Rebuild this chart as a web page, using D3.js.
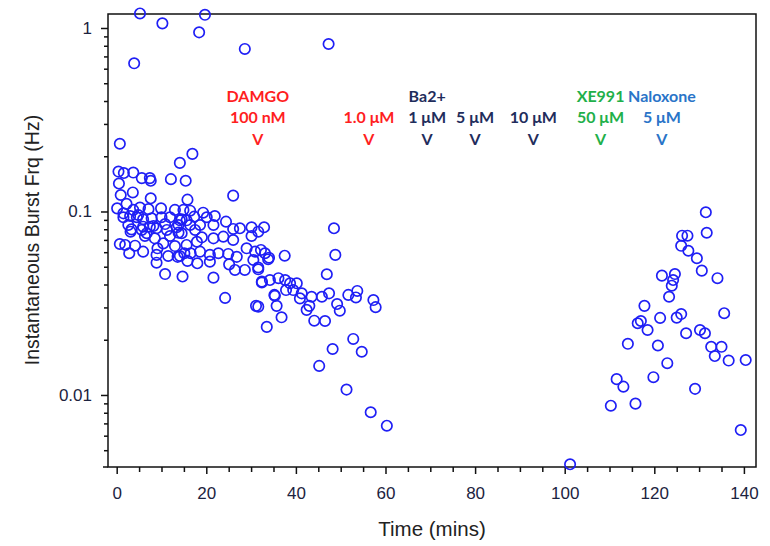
<!DOCTYPE html>
<html>
<head>
<meta charset="utf-8">
<script src="https://cdn.jsdelivr.net/npm/d3@7"></script>
<style>
body { margin: 0; background: #fff; }
svg { display: block; font-family: "Liberation Sans", Arial, sans-serif; }
.axis text { font-size: 17px; fill: #1c2340; }
.axis line { stroke: #111; stroke-width: 1.5; }
.axis path { display: none; }
.note { font-family: Lato, "Open Sans", sans-serif; font-weight: bold; font-size: 16px; text-anchor: middle; }
</style>
</head>
<body>
<svg id="chart" width="770" height="546"></svg>
<script>
// burst times (mins) and instantaneous burst frequency (Hz)
var timeMins = [
    5.2, 10.2, 19.7, 18.4, 28.6, 47.3, 3.9,
    0.7, 16.9, 14.1, 0.4, 1.6, 3.7, 5.6, 7.4, 7.6, 0.5, 12.1, 15.4, 3.6, 0.9, 7.6, 15.8, 26.0,
    0.1, 2.2, 3.7, 5.2, 7.1, 9.9, 13.0, 14.9, 16.4, 19.3, 21.9, 24.4, 27.5, 30.1,
    1.5, 3.0, 4.8, 7.8, 10.0, 11.9, 14.5, 17.3, 20.1,
    2.6, 5.9, 8.2, 10.8, 13.8, 16.4, 18.6, 21.6, 26.0,
    3.1, 6.3, 8.5, 11.9, 14.5, 17.5, 19.0, 21.6, 23.8, 26.0, 30.1,
    0.7, 1.9, 4.1, 5.9, 9.1, 10.4, 13.0, 15.6, 17.9,
    2.8, 8.9, 11.5, 14.1, 16.5, 18.6, 20.8, 22.7, 24.9, 26.8, 29.0, 30.9, 34.0,
    8.9, 15.8, 18.0, 20.8, 25.1, 26.4, 28.6, 30.5, 31.6,
    10.8, 14.7, 21.6, 32.4, 24.2, 31.1, 35.2,
    1.5, 4.5, 5.9, 14.1, 15.6, 3.3, 5.6, 7.4, 8.9, 11.2, 13.4, 6.7, 13.8, 13.6, 15.1,
    32.9, 31.6, 32.2, 33.1, 33.8, 31.6, 37.5, 48.5, 48.8, 46.9,
    32.4, 34.2, 36.1, 37.6, 38.7, 40.2, 37.8, 39.4, 41.3, 40.9, 43.5, 45.8, 47.4,
    35.3, 35.7, 43.0, 42.4, 31.6, 36.8, 44.1, 46.5, 49.2, 49.8, 51.7, 53.7, 53.4, 57.3, 57.8,
    33.5, 52.8, 54.7, 48.2, 45.2, 51.3, 56.7, 60.3,
    101.2,
    131.5, 131.7, 126.2, 127.4, 126.0, 127.6, 129.5, 130.6, 134.1, 121.7, 124.6, 124.2, 123.9,
    123.3, 117.8, 135.6, 121.3, 125.0, 126.0, 117.0, 116.3, 118.5, 127.1, 130.2, 131.3,
    114.1, 120.8, 132.7, 135.0, 133.5, 136.6, 140.4, 122.9, 111.6, 113.1, 119.8, 129.1,
    110.3, 115.8, 139.3
];
var burstHz = [
    1.2, 1.06, 1.18, 0.947, 0.769, 0.818, 0.642,
    0.234, 0.206, 0.184, 0.165, 0.162, 0.163, 0.152, 0.152, 0.147, 0.142, 0.150, 0.147, 0.127, 0.123, 0.118, 0.116, 0.122,
    0.104, 0.110, 0.102, 0.105, 0.103, 0.104, 0.102, 0.102, 0.101, 0.0985, 0.0945, 0.088, 0.081, 0.082,
    0.093, 0.0945, 0.0957, 0.0918, 0.093, 0.093, 0.0907, 0.0937, 0.093,
    0.0844, 0.0826, 0.0833, 0.0854, 0.0844, 0.0844, 0.0844, 0.0844, 0.0803,
    0.0776, 0.0735, 0.0714, 0.0735, 0.0761, 0.0793, 0.0723, 0.0714, 0.0729, 0.0699, 0.0735,
    0.0665, 0.0657, 0.0651, 0.0604, 0.063, 0.067, 0.0648, 0.0657, 0.0684,
    0.0592, 0.058, 0.0572, 0.0572, 0.0592, 0.0604, 0.058, 0.0592, 0.0587, 0.0566, 0.063, 0.0604, 0.056,
    0.0526, 0.0538, 0.0522, 0.0533, 0.0515, 0.048, 0.048, 0.0544, 0.0495,
    0.0456, 0.0442, 0.0436, 0.041, 0.0338, 0.0306, 0.0351,
    0.0977, 0.093, 0.0907, 0.0895, 0.0895, 0.0799, 0.0793, 0.0826, 0.081, 0.0793, 0.082, 0.0761, 0.0767, 0.0566, 0.0592,
    0.082, 0.0776, 0.0617, 0.0592, 0.0549, 0.0484, 0.0574, 0.081, 0.058, 0.0455,
    0.0415, 0.0423, 0.0433, 0.0423, 0.0406, 0.0406, 0.0373, 0.0373, 0.0358, 0.0336, 0.0343, 0.0343, 0.0358,
    0.0347, 0.0306, 0.0306, 0.0291, 0.0303, 0.0265, 0.0254, 0.0253, 0.0313, 0.0288, 0.0351, 0.0369, 0.034, 0.0329, 0.0301,
    0.0235, 0.0202, 0.0172, 0.0178, 0.0144, 0.0107, 0.00805, 0.0068,
    0.00419,
    0.099, 0.0766, 0.0738, 0.0738, 0.065, 0.0611, 0.0556, 0.0476, 0.0433, 0.0447, 0.0456, 0.0423, 0.0394,
    0.0343, 0.0306, 0.0279, 0.0263, 0.0264, 0.0276, 0.0253, 0.0246, 0.0226, 0.0217, 0.0226, 0.0217,
    0.019, 0.0186, 0.0183, 0.0183, 0.0163, 0.0154, 0.0155, 0.0149, 0.0122, 0.0111, 0.0125, 0.0108,
    0.00874, 0.00897, 0.00644
];

// drug applications
var drugNames = ["DAMGO", "", "Ba2+", "", "", "XE991", "Naloxone"];
var drugDoses = ["100 nM", "1.0 μM", "1 μM", "5 μM", "10 μM", "50 μM", "5 μM"];
var drugTimes = [31.5, 56.3, 69.3, 80, 93, 108, 121.7];
var drugColors = ["#ff1f1f", "#ff1f1f", "#1f2d5c", "#1f2d5c", "#1f2d5c", "#1fb04a", "#2a74c8"];

var xTicks = [0, 20, 40, 60, 80, 100, 120, 140];
var yTicks = [0.01, 0.1, 1];

var margin = {top: 14, right: 14, bottom: 79, left: 108};
var width = 770 - margin.left - margin.right;
var height = 546 - margin.top - margin.bottom;

var scaleX = d3.scaleLinear().domain([-1.94, 142.7]).range([0, width]);
var scaleY = d3.scaleLog().domain([0.00405, 1.192]).range([height, 0]);

var chart = d3.select("#chart")
    .append("g")
        .attr("transform", "translate(" + margin.left + "," + margin.top + ")");

// minor ticks
var xMinor = d3.range(5, 145, 5).filter(function(d) { return d % 20 != 0 });
var yMinor = [];
[0.001, 0.01, 0.1].forEach(function(dec) {
    for (var k = 2; k <= 9; k++) {
        var v = +(dec * k).toPrecision(3);
        if (v >= scaleY.domain()[0] && v <= scaleY.domain()[1]) yMinor.push(v);
    }
});

chart.append("g")
    .attr("class", "x axis")
    .attr("transform", "translate(0," + height + ")")
    .call(d3.axisBottom(scaleX).tickValues(xMinor).tickSize(5).tickFormat(""));

chart.append("g")
    .attr("class", "x axis")
    .attr("transform", "translate(0," + height + ")")
    .call(d3.axisBottom(scaleX).tickValues(xTicks).tickSize(7).tickPadding(13).tickFormat(d3.format("d")));

chart.append("g")
    .attr("class", "y axis")
    .call(d3.axisLeft(scaleY).tickValues(yMinor).tickSize(4).tickFormat(""));

chart.append("g")
    .attr("class", "y axis")
    .call(d3.axisLeft(scaleY).tickValues(yTicks).tickSize(7).tickPadding(9)
        .tickFormat(function(d) { return d3.format("~g")(d) }));

// frame
chart.append("rect")
    .attr("width", width)
    .attr("height", height)
    .style("fill", "none")
    .style("stroke", "#111")
    .style("stroke-width", 1.5);

chart.append("line")
    .attr("x1", -5).attr("x2", 0)
    .attr("y1", height).attr("y2", height)
    .style("stroke", "#111")
    .style("stroke-width", 1.5);

// titles
chart.append("text")
    .attr("x", width / 2)
    .attr("y", 522)
    .attr("text-anchor", "middle")
    .style("font-size", "20.5px")
    .style("fill", "#222")
    .text("Time (mins)");

chart.append("text")
    .attr("transform", "translate(-69," + 226 + ") rotate(-90)")
    .attr("text-anchor", "middle")
    .style("font-size", "19.5px")
    .style("fill", "#222")
    .text("Instantaneous Burst Frq (Hz)");

// drug annotations
var notes = chart.selectAll(".noteGroup")
    .data(drugTimes)
    .enter()
    .append("g")
        .attr("class", "note")
        .attr("transform", function(d) { return "translate(" + scaleX(d) + ",0)" })
        .style("fill", function(d, i) { return drugColors[i] });

notes.append("text").attr("y", 88).text(function(d, i) { return drugNames[i] });
notes.append("text").attr("y", 109).text(function(d, i) { return drugDoses[i] });
notes.append("text").attr("y", 131).text("V");

// points
chart.selectAll("circle")
    .data(timeMins)
    .enter()
    .append("circle")
        .attr("cx", function(d) { return scaleX(d) })
        .attr("cy", function(d, i) { return scaleY(burstHz[i]) })
        .attr("r", 5.2)
        .style("fill", "none")
        .style("stroke", "#1f1ff5")
        .style("stroke-width", 1.7);
</script>
</body>
</html>
